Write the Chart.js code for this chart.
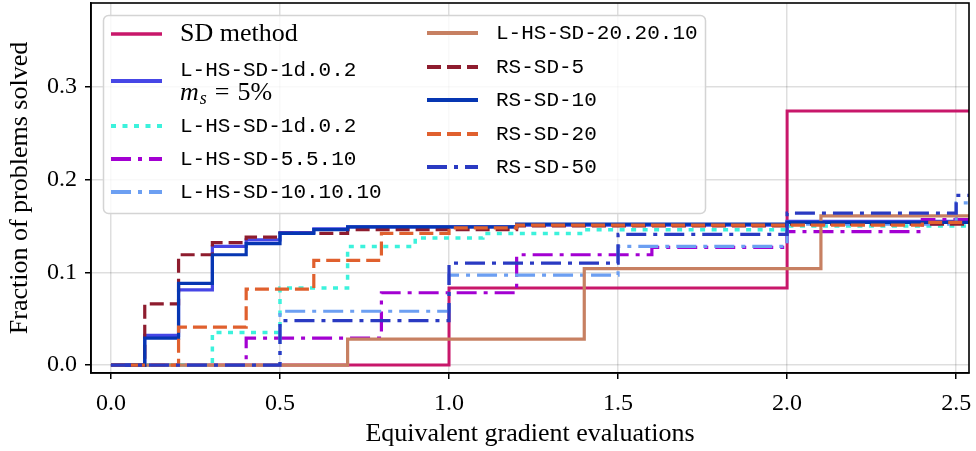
<!DOCTYPE html>
<html>
<head>
<meta charset="utf-8">
<script src="https://cdn.jsdelivr.net/npm/chart.js@4.4.1/dist/chart.umd.min.js"></script>
<style>
html, body { margin: 0; padding: 0; background: #fff; }
canvas { display: block; }
</style>
</head>
<body>
<canvas id="profile" width="976" height="451"></canvas>
<script>
// step breakpoints: x = equivalent gradient evaluations, y = fraction of problems solved
const sdX = [0, 1.0, 2.0, 2.6];
const sdY = [0, 0.083, 0.274, 0.274];

const lhs1dMsX = [0, 0.1, 0.2, 0.3, 0.4, 0.5, 0.6, 0.7, 1.2, 2.0, 2.6];
const lhs1dMsY = [0, 0.032, 0.081, 0.128, 0.135, 0.143, 0.147, 0.149, 0.151, 0.155, 0.157];

const lhs1dX = [0, 0.3, 0.5, 0.7, 0.9, 1.1, 1.4, 2.0, 2.6];
const lhs1dY = [0, 0.035, 0.083, 0.128, 0.137, 0.142, 0.146, 0.150, 0.150];

const lhs5X = [0, 0.4, 0.8, 1.2, 1.6, 2.0, 2.4, 2.6];
const lhs5Y = [0, 0.029, 0.078, 0.119, 0.127, 0.144, 0.157, 0.157];

const lhs10X = [0, 0.5, 1.0, 1.5, 2.0, 2.5, 2.6];
const lhs10Y = [0, 0.058, 0.097, 0.128, 0.152, 0.175, 0.175];

const lhs20X = [0, 0.7, 1.4, 2.1, 2.6];
const lhs20Y = [0, 0.028, 0.104, 0.161, 0.161];

const rs5X = [0, 0.1, 0.2, 0.3, 0.4, 0.5, 0.7, 1.2, 2.0, 2.6];
const rs5Y = [0, 0.066, 0.119, 0.132, 0.138, 0.142, 0.146, 0.150, 0.152, 0.152];

const rs10X = [0, 0.1, 0.2, 0.3, 0.4, 0.5, 0.6, 0.7, 1.2, 2.0, 2.6];
const rs10Y = [0, 0.029, 0.088, 0.119, 0.131, 0.142, 0.146, 0.149, 0.152, 0.154, 0.156];

const rs20X = [0, 0.2, 0.4, 0.6, 0.8, 1.0, 1.2, 2.4, 2.6];
const rs20Y = [0, 0.041, 0.082, 0.113, 0.142, 0.148, 0.151, 0.154, 0.154];

const rs50X = [0, 0.5, 1.0, 1.5, 2.0, 2.5, 2.6];
const rs50Y = [0, 0.048, 0.110, 0.141, 0.164, 0.183, 0.183];

const xTicks = [0, 0.5, 1.0, 1.5, 2.0, 2.5];
const yTicks = [0, 0.1, 0.2, 0.3];

const serif = '"Liberation Serif", "DejaVu Serif", serif';
const mono = '"Liberation Mono", "DejaVu Sans Mono", monospace';

const dashDot = [20, 7, 4, 7];

const series = [
    { label: 'SD method', xs: sdX, ys: sdY, color: '#c8176a', dash: [], width: 3 },
    { label: 'L-HS-SD-1d.0.2', xs: lhs1dMsX, ys: lhs1dMsY, color: '#4646e6', dash: [], width: 3.2 },
    { label: 'L-HS-SD-1d.0.2', xs: lhs1dX, ys: lhs1dY, color: '#3cf2dc', dash: [5, 6.5], width: 3.5 },
    { label: 'L-HS-SD-5.5.10', xs: lhs5X, ys: lhs5Y, color: '#a300d2', dash: dashDot, width: 3.2 },
    { label: 'L-HS-SD-10.10.10', xs: lhs10X, ys: lhs10Y, color: '#6c9ff2', dash: dashDot, width: 3.2 },
    { label: 'L-HS-SD-20.20.10', xs: lhs20X, ys: lhs20Y, color: '#c78062', dash: [], width: 3.2 },
    { label: 'RS-SD-5', xs: rs5X, ys: rs5Y, color: '#8e1c2e', dash: [14, 6], width: 3.2 },
    { label: 'RS-SD-10', xs: rs10X, ys: rs10Y, color: '#0636b2', dash: [], width: 3.2 },
    { label: 'RS-SD-20', xs: rs20X, ys: rs20Y, color: '#e0602e', dash: [14, 6], width: 3.2 },
    { label: 'RS-SD-50', xs: rs50X, ys: rs50Y, color: '#2a3ac2', dash: dashDot, width: 3.2 }
];

function toPoints(xs, ys) {
    return xs.map(function(x, i) { return { x: x, y: ys[i] }; });
}

// drop the label overhang padding so the plot box lands where we want it
function noPadding(scale) {
    scale.paddingTop = 0;
    scale.paddingBottom = 0;
    scale.paddingLeft = 0;
    scale.paddingRight = 0;
}

// full frame around the axes, like matplotlib spines
const framePlugin = {
    id: 'frame',
    afterDatasetsDraw(chart) {
        const a = chart.chartArea;
        const ctx = chart.ctx;
        ctx.save();
        ctx.strokeStyle = '#000';
        ctx.lineWidth = 1.6;
        ctx.strokeRect(a.left, a.top, a.right - a.left, a.bottom - a.top);
        ctx.restore();
    }
};

// legend box in the upper left, two columns
const legendPlugin = {
    id: 'boxLegend',
    afterDraw(chart) {
        const ctx = chart.ctx;
        ctx.save();
        ctx.beginPath();
        ctx.roundRect(103.5, 15.5, 602, 198, 5);
        ctx.fillStyle = 'rgba(255,255,255,0.8)';
        ctx.fill();
        ctx.strokeStyle = '#d4d4d4';
        ctx.lineWidth = 1.5;
        ctx.stroke();

        const rows = [
            { i: 0, hx: 111, tx: 180, y: 34 },
            { i: 1, hx: 111, tx: 180, y: 81 },
            { i: 2, hx: 111, tx: 180, y: 126 },
            { i: 3, hx: 111, tx: 180, y: 159 },
            { i: 4, hx: 111, tx: 180, y: 192 },
            { i: 5, hx: 427, tx: 496, y: 33 },
            { i: 6, hx: 427, tx: 496, y: 67 },
            { i: 7, hx: 427, tx: 496, y: 100 },
            { i: 8, hx: 427, tx: 496, y: 134 },
            { i: 9, hx: 427, tx: 496, y: 167 }
        ];
        rows.forEach(function(r) {
            const s = series[r.i];
            ctx.setLineDash(s.dash);
            ctx.strokeStyle = s.color;
            ctx.lineWidth = s.width + 0.6;
            ctx.beginPath();
            ctx.moveTo(r.hx, r.y);
            ctx.lineTo(r.hx + 51, r.y);
            ctx.stroke();
            ctx.setLineDash([]);
            ctx.fillStyle = '#000';
            ctx.textBaseline = 'middle';
            ctx.textAlign = 'left';
            if (r.i === 0) {
                ctx.font = '26px ' + serif;
                ctx.fillText(s.label, r.tx, r.y);
            } else if (r.i === 1) {
                ctx.font = '21px ' + mono;
                ctx.fillText(s.label, r.tx, r.y - 11);
                // second line: m_s = 5%
                let x = r.tx;
                ctx.font = 'italic 26px ' + serif;
                ctx.fillText('m', x, r.y + 12);
                x += ctx.measureText('m').width + 1;
                ctx.font = 'italic 18px ' + serif;
                ctx.fillText('s', x, r.y + 18);
                x += ctx.measureText('s').width + 8;
                ctx.font = '26px ' + serif;
                ctx.fillText('=', x, r.y + 12);
                x += ctx.measureText('=').width + 8;
                ctx.fillText('5%', x, r.y + 12);
            } else {
                ctx.font = '21px ' + mono;
                ctx.fillText(s.label, r.tx, r.y);
            }
        });
        ctx.restore();
    }
};

const ctx = document.getElementById('profile').getContext('2d');
const chart = new Chart(ctx, {
    type: 'line',
    data: {
        datasets: series.map(function(s, i) {
            return {
                label: s.label,
                data: toPoints(s.xs, s.ys),
                borderColor: s.color,
                borderWidth: s.width,
                borderDash: s.dash,
                borderCapStyle: 'butt',
                borderJoinStyle: 'miter',
                stepped: 'before',
                pointRadius: 0,
                fill: false,
                order: -i
            };
        })
    },
    options: {
        responsive: false,
        animation: false,
        devicePixelRatio: 1,
        layout: { autoPadding: false, padding: { left: 0, right: 7, top: 3, bottom: 0 } },
        plugins: {
            legend: { display: false },
            tooltip: { enabled: false }
        },
        scales: {
            x: {
                type: 'linear',
                min: -0.059,
                max: 2.538,
                afterBuildTicks: function(scale) {
                    scale.ticks = xTicks.map(function(v) { return { value: v }; });
                },
                afterFit: function(scale) { scale.height = 78; noPadding(scale); },
                grid: { color: 'rgba(0,0,0,0.13)', lineWidth: 1.5, tickColor: '#000', tickLength: 6, tickWidth: 1.5 },
                border: { color: '#000', width: 1.6 },
                ticks: {
                    color: '#000',
                    padding: 10,
                    maxRotation: 0,
                    font: { family: serif, size: 24 },
                    callback: function(v) { return v.toFixed(1); }
                },
                title: {
                    display: true,
                    text: 'Equivalent gradient evaluations',
                    color: '#000',
                    font: { family: serif, size: 26 },
                    padding: { top: 0, bottom: 1 }
                }
            },
            y: {
                type: 'linear',
                min: -0.0086,
                max: 0.3906,
                afterBuildTicks: function(scale) {
                    scale.ticks = yTicks.map(function(v) { return { value: v }; });
                },
                afterFit: function(scale) { scale.width = 91; noPadding(scale); },
                grid: { color: 'rgba(0,0,0,0.13)', lineWidth: 1.5, tickColor: '#000', tickLength: 6, tickWidth: 1.5 },
                border: { color: '#000', width: 1.6 },
                ticks: {
                    color: '#000',
                    padding: 8,
                    font: { family: serif, size: 24 },
                    callback: function(v) { return v.toFixed(1); }
                },
                title: {
                    display: true,
                    text: 'Fraction of problems solved',
                    color: '#000',
                    font: { family: serif, size: 26 },
                    padding: { top: 5, bottom: 0 }
                }
            }
        }
    },
    plugins: [framePlugin, legendPlugin]
});
</script>
</body>
</html>
